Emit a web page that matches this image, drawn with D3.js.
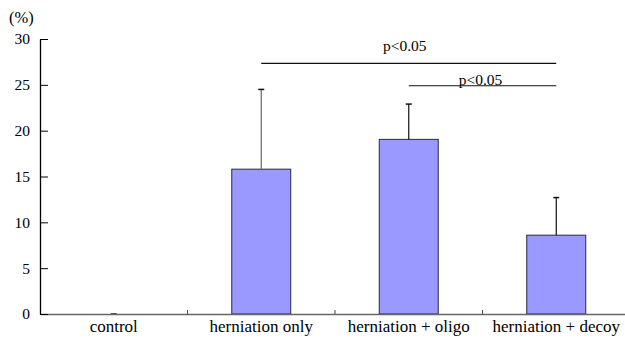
<!DOCTYPE html>
<html>
<head>
<meta charset="utf-8">
<script src="https://cdn.jsdelivr.net/npm/d3@7"></script>
</head>
<body style="margin:0">
<svg id="chart" width="625" height="341"></svg>
<script>
const categories = ['control', 'herniation only', 'herniation + oligo', 'herniation + decoy'];
const means = [0, 15.8, 19.05, 8.6];
const errors = [0, 8.7, 3.85, 4.1];
const yTicks = [0, 5, 10, 15, 20, 25, 30];
const sigFrom = ['herniation only', 'herniation + oligo'];
const sigTo = ['herniation + decoy', 'herniation + decoy'];
const sigLevel = [27.35, 24.9];
const sigLabel = ['p<0.05', 'p<0.05'];

const serif = 'Liberation Serif';

const svg = d3.select('#chart');

const x = d3.scaleBand()
  .domain(categories)
  .range([40, 630])
  .paddingInner(0)
  .paddingOuter(0);

const y = d3.scaleLinear()
  .domain([0, 30])
  .range([314, 39]);

const barWidth = x.bandwidth() * 0.4;
const cx = d => x(d) + x.bandwidth() / 2;

// bars
svg.selectAll('.bar')
  .data(categories)
  .enter()
  .append('rect')
  .attr('class', 'bar')
  .attr('x', d => cx(d) - barWidth / 2)
  .attr('y', (d, i) => y(means[i]))
  .attr('width', barWidth)
  .attr('height', (d, i) => y(0) - y(means[i]))
  .attr('fill', '#9999ff')
  .attr('stroke', '#2a2a40')
  .attr('stroke-width', 1)
  .attr('display', (d, i) => (means[i] > 0 ? null : 'none'));

// error bars (upper only)
svg.selectAll('.err')
  .data(categories)
  .enter()
  .append('line')
  .attr('class', 'err')
  .attr('x1', d => cx(d))
  .attr('x2', d => cx(d))
  .attr('y1', (d, i) => y(means[i]))
  .attr('y2', (d, i) => y(means[i] + errors[i]))
  .attr('stroke', (d, i) => (i === 1 ? '#666' : '#111'))
  .attr('stroke-width', 1.2);

svg.selectAll('.cap')
  .data(categories)
  .enter()
  .append('line')
  .attr('class', 'cap')
  .attr('x1', d => cx(d) - 3)
  .attr('x2', d => cx(d) + 3)
  .attr('y1', (d, i) => y(means[i] + errors[i]))
  .attr('y2', (d, i) => y(means[i] + errors[i]))
  .attr('stroke', '#111')
  .attr('stroke-width', 1.5);

// x axis
const gx = svg.append('g')
  .attr('transform', `translate(0, ${y(0)})`)
  .call(d3.axisBottom(x).tickSize(0).tickPadding(6));
gx.attr('font-family', null).attr('font-size', null);
gx.select('.domain').attr('stroke', '#666').attr('stroke-width', 1.3);
gx.selectAll('.tick text')
  .attr('font-family', serif)
  .attr('font-size', 17)
  .attr('dy', '0.71em');

// category boundary ticks (pointing up)
svg.selectAll('.sep')
  .data(categories.slice(1))
  .enter()
  .append('line')
  .attr('class', 'sep')
  .attr('x1', d => x(d))
  .attr('x2', d => x(d))
  .attr('y1', y(0))
  .attr('y2', y(0) - 4)
  .attr('stroke', '#444');

// y axis, ticks inward
const gy = svg.append('g')
  .attr('transform', 'translate(40, 0)')
  .call(d3.axisRight(y).tickValues(yTicks).tickSizeInner(8).tickSizeOuter(0).tickFormat(d3.format('d')));
gy.attr('font-family', null).attr('font-size', null);
gy.select('.domain').attr('stroke', '#000').attr('stroke-width', 1.3);
gy.selectAll('.tick line').attr('stroke', '#000');
gy.selectAll('.tick text')
  .attr('font-family', serif)
  .attr('x', -10)
  .attr('text-anchor', 'end')
  .attr('font-size', 15.5);

svg.append('text')
  .attr('x', 9)
  .attr('y', 23)
  .attr('font-family', serif)
  .attr('font-size', 16.5)
  .text('(%)');

// significance brackets
svg.selectAll('.sig')
  .data(sigLevel)
  .enter()
  .append('line')
  .attr('class', 'sig')
  .attr('x1', (d, i) => cx(sigFrom[i]))
  .attr('x2', (d, i) => cx(sigTo[i]))
  .attr('y1', d => y(d))
  .attr('y2', d => y(d))
  .attr('stroke', '#111')
  .attr('stroke-width', 1.2);

svg.selectAll('.sig-label')
  .data(sigLevel)
  .enter()
  .append('text')
  .attr('class', 'sig-label')
  .attr('x', (d, i) => (cx(sigFrom[i]) + cx(sigTo[i])) / 2 - (i === 0 ? 4 : 2))
  .attr('y', (d, i) => y(d) - (i === 0 ? 12.5 : 0.5))
  .attr('text-anchor', 'middle')
  .attr('font-family', serif)
  .attr('font-size', 15.5)
  .text((d, i) => sigLabel[i]);
</script>
</body>
</html>
